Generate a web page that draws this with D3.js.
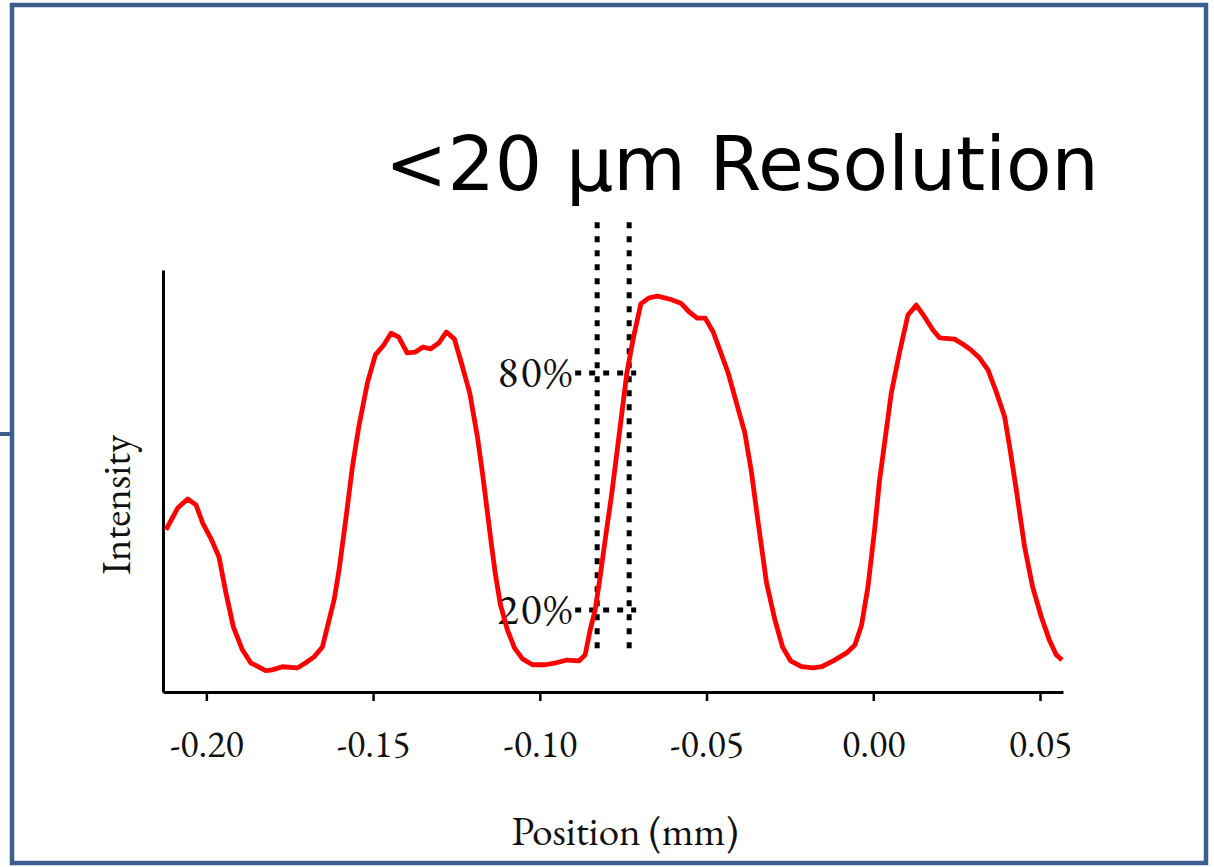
<!DOCTYPE html>
<html>
<head>
<meta charset="utf-8">
<script src="https://cdn.jsdelivr.net/npm/d3@7"></script>
<style>
  body { margin: 0; background: #fff; }
  svg { display: block; }
</style>
</head>
<body>
<script>
// data: position (mm) vs normalised intensity
var positions = [-0.2121, -0.2086, -0.2056, -0.2031, -0.2011, -0.1987, -0.1962, -0.1942, -0.1919, -0.1892,
  -0.1867, -0.1822, -0.1802, -0.1772, -0.1727, -0.1702, -0.1677, -0.1652, -0.1637, -0.1617,
  -0.1602, -0.1582, -0.1562, -0.1543, -0.1517, -0.1493, -0.1468, -0.1446, -0.1423, -0.1398,
  -0.1373, -0.1350, -0.1328, -0.1303, -0.1280, -0.1256, -0.1236, -0.1210, -0.1187, -0.1172,
  -0.1157, -0.1145, -0.1133, -0.1118, -0.1097, -0.1076, -0.1052, -0.1022, -0.0984, -0.0951,
  -0.0918, -0.0882, -0.0864, -0.0849, -0.0834, -0.0819, -0.0804, -0.0784, -0.0764, -0.0749,
  -0.0739, -0.0719, -0.0697, -0.0674, -0.0647, -0.0609, -0.0577, -0.0551, -0.0528, -0.0504,
  -0.0480, -0.0460, -0.0435, -0.0410, -0.0385, -0.0365, -0.0345, -0.0320, -0.0295, -0.0272,
  -0.0248, -0.0215, -0.0180, -0.0155, -0.0120, -0.0080, -0.0055, -0.0035, -0.0016, 0.0004,
  0.0019, 0.0034, 0.0054, 0.0079, 0.0104, 0.0129, 0.0154, 0.0179, 0.0199, 0.0244,
  0.0269, 0.0294, 0.0319, 0.0344, 0.0369, 0.0394, 0.0409, 0.0429, 0.0454, 0.0478,
  0.0504, 0.0528, 0.0549, 0.0566];
var intensity = [0.403, 0.458, 0.481, 0.466, 0.420, 0.382, 0.334, 0.246, 0.157, 0.099,
  0.066, 0.046, 0.048, 0.056, 0.053, 0.066, 0.081, 0.106, 0.157, 0.225,
  0.301, 0.428, 0.562, 0.663, 0.775, 0.846, 0.871, 0.901, 0.891, 0.851,
  0.853, 0.866, 0.861, 0.876, 0.904, 0.886, 0.828, 0.749, 0.638, 0.547,
  0.446, 0.365, 0.289, 0.213, 0.149, 0.104, 0.076, 0.061, 0.061, 0.066,
  0.073, 0.071, 0.086, 0.149, 0.200, 0.284, 0.377, 0.496, 0.630, 0.732,
  0.800, 0.891, 0.975, 0.990, 0.995, 0.987, 0.977, 0.954, 0.939, 0.939,
  0.904, 0.858, 0.800, 0.724, 0.648, 0.547, 0.420, 0.268, 0.175, 0.106,
  0.071, 0.056, 0.053, 0.056, 0.071, 0.091, 0.111, 0.162, 0.258, 0.403,
  0.529, 0.623, 0.749, 0.853, 0.947, 0.972, 0.942, 0.909, 0.889, 0.886,
  0.873, 0.858, 0.838, 0.808, 0.752, 0.689, 0.613, 0.504, 0.359, 0.258,
  0.182, 0.124, 0.086, 0.073];
var xTicks = [-0.20, -0.15, -0.10, -0.05, 0.00, 0.05];
// 20%-80% edge markers
var edgeX = [-0.0828, -0.0732];
var levels = [0.2, 0.8];
var levelLabels = ["20%", "80%"];

var W = 1214, H = 867;
var serif = "Garamond, 'EB Garamond', 'Liberation Serif', serif";

var svg = d3.select("body").append("svg").attr("width", W).attr("height", H);

// blue slide frame
svg.append("rect")
  .attr("x", 12).attr("y", 5).attr("width", 1194).attr("height", 858)
  .attr("fill", "none").attr("stroke", "#3c5f8f").attr("stroke-width", 4.5);
svg.append("line")
  .attr("x1", 0).attr("x2", 13).attr("y1", 434).attr("y2", 434)
  .attr("stroke", "#3c5f8f").attr("stroke-width", 4);

var x = d3.scaleLinear().domain([-0.213, 0.0569]).range([163, 1063]);
var y = d3.scaleLinear().domain([-0.008, 1.061]).range([692, 270]);

// title
svg.append("text")
  .attr("x", 385).attr("y", 190)
  .attr("font-family", "'DejaVu Sans', Verdana, sans-serif")
  .attr("font-size", 74.5)
  .attr("fill", "#000")
  .text("<20 µm Resolution");

// axes
var xAxis = svg.append("g")
  .attr("transform", "translate(0," + y.range()[0] + ")")
  .call(d3.axisBottom(x).tickValues(xTicks).tickSize(9).tickSizeOuter(0));
xAxis.select(".domain").attr("stroke-width", 3);
xAxis.selectAll(".tick line").attr("stroke-width", 2.5);
xAxis.selectAll(".tick text")
  .attr("font-family", serif).attr("font-size", 38).attr("fill", "#111")
  .attr("y", 0).attr("dy", 65)
  .text(function(d) { return d3.format(".2f")(d).replace("−", "-"); });

var yAxis = svg.append("g")
  .attr("transform", "translate(" + x.range()[0] + ",0)")
  .call(d3.axisLeft(y).tickValues([]).tickSizeOuter(0));
yAxis.select(".domain").attr("stroke-width", 3);

// axis titles
svg.append("text")
  .attr("transform", "translate(130,505) rotate(-90)")
  .attr("text-anchor", "middle")
  .attr("font-family", serif).attr("font-size", 41).attr("fill", "#111")
  .text("Intensity");
svg.append("text")
  .attr("x", 625).attr("y", 845)
  .attr("text-anchor", "middle")
  .attr("font-family", serif).attr("font-size", 41).attr("fill", "#111")
  .text("Position (mm)");

// dotted markers
var dots = svg.append("g")
  .attr("stroke", "#000").attr("stroke-width", 5).attr("stroke-dasharray", "6,8").attr("fill", "none");
dots.selectAll(".vline").data(edgeX).enter().append("line")
  .attr("class", "vline")
  .attr("x1", function(d) { return x(d); }).attr("x2", function(d) { return x(d); })
  .attr("y1", y(1.182)).attr("y2", y(0.099));
dots.selectAll(".hline").data(levels).enter().append("line")
  .attr("class", "hline")
  .attr("x1", x(-0.0894)).attr("x2", x(-0.0711))
  .attr("y1", function(d) { return y(d); }).attr("y2", function(d) { return y(d); });

svg.selectAll(".lvl").data(levels).enter().append("text")
  .attr("class", "lvl")
  .attr("x", x(-0.0897)).attr("y", function(d) { return y(d); })
  .attr("dy", 14)
  .attr("text-anchor", "end")
  .attr("font-family", serif).attr("font-size", 44).attr("fill", "#111")
  .attr("letter-spacing", 2)
  .text(function(d, i) { return levelLabels[i]; });

// profile
var line = d3.line()
  .x(function(d, i) { return x(positions[i]); })
  .y(function(d) { return y(d); });
svg.append("path")
  .datum(intensity)
  .attr("d", line)
  .attr("fill", "none")
  .attr("stroke", "#ff0000")
  .attr("stroke-width", 4.8)
  .attr("stroke-linejoin", "round");
</script>
</body>
</html>
